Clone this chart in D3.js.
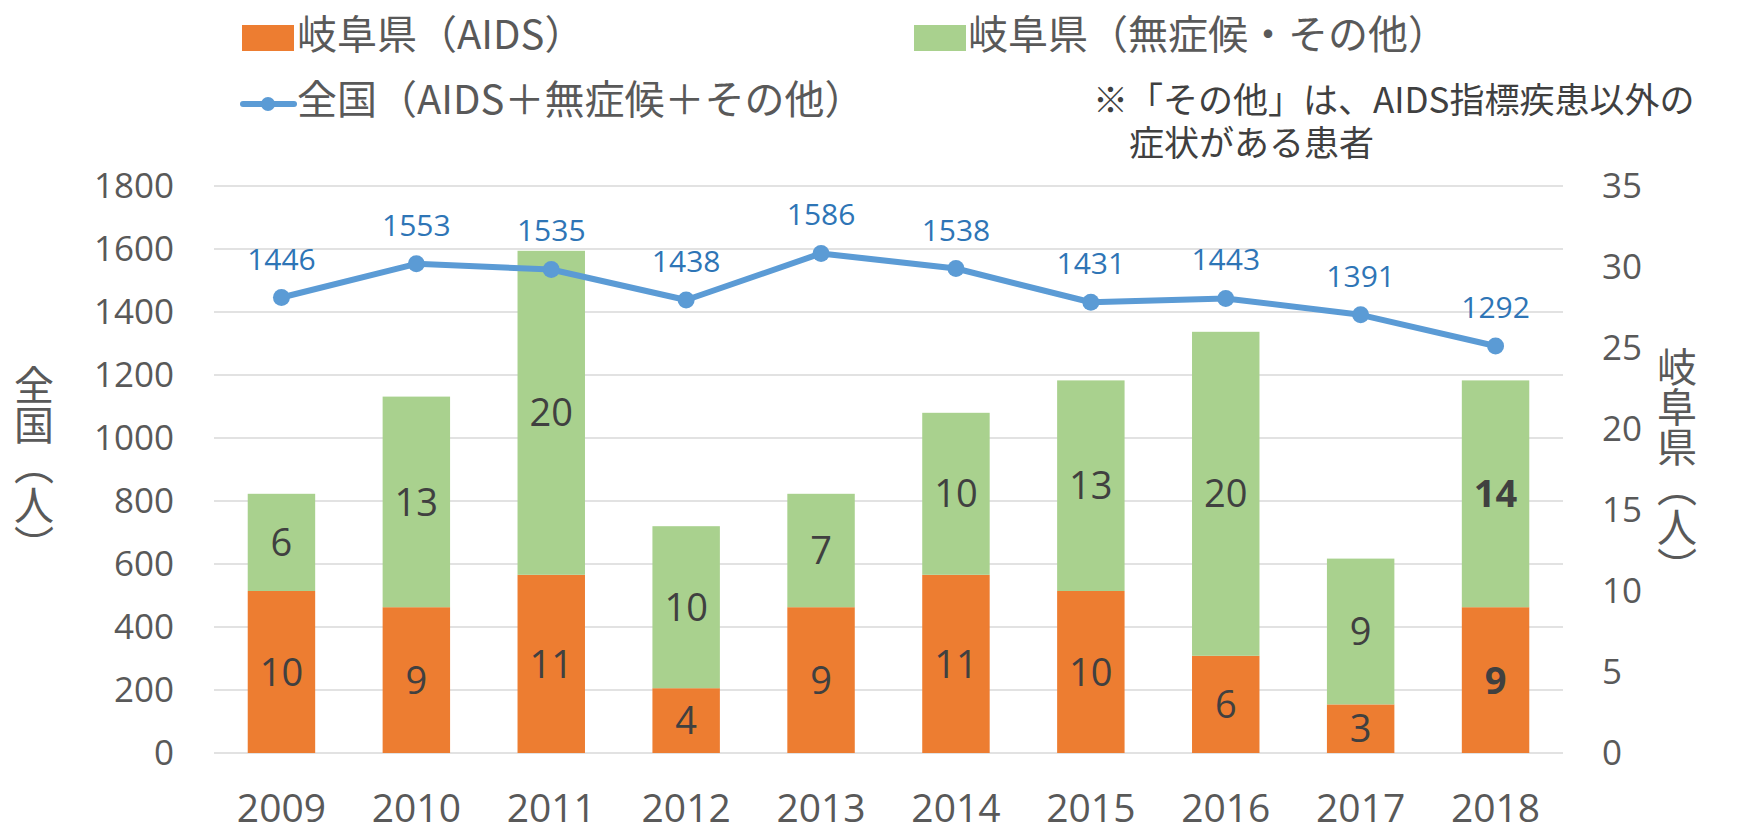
<!DOCTYPE html>
<html lang="ja">
<head>
    <meta charset="UTF-8">
    <title>HIV/AIDS 岐阜県・全国</title>
    <script src="https://d3js.org/d3.v7.min.js"></script>
    <style>
        body { margin: 0; background: #fff; }
        text { font-family: "Open Sans", "Noto Sans CJK JP", sans-serif; }
        .cjk { font-family: "Noto Sans CJK JP", sans-serif; }
    </style>
</head>
<body>
    <div id="chart"></div>
    <script>
        // data
        const years = ["2009", "2010", "2011", "2012", "2013", "2014", "2015", "2016", "2017", "2018"];
        const gifuAids = [10, 9, 11, 4, 9, 11, 10, 6, 3, 9];
        const gifuOther = [6, 13, 20, 10, 7, 10, 13, 20, 9, 14];
        const national = [1446, 1553, 1535, 1438, 1586, 1538, 1431, 1443, 1391, 1292];
        const leftTicks = [0, 200, 400, 600, 800, 1000, 1200, 1400, 1600, 1800];
        const rightTicks = [0, 5, 10, 15, 20, 25, 30, 35];
        const legendLabels = ["岐阜県（AIDS）", "岐阜県（無症候・その他）", "全国（AIDS＋無症候＋その他）"];
        const noteLines = ["※「その他」は、AIDS指標疾患以外の", "症状がある患者"];

        const W = 1737, H = 835;
        const margin = { top: 186, right: 174, bottom: 82, left: 214 };
        const width = W - margin.left - margin.right;
        const height = H - margin.top - margin.bottom;

        const orange = "#ed7d31", green = "#a9d18e", blue = "#5b9bd5";
        const grey = "#595959";

        const svg = d3.select("#chart").append("svg")
            .attr("width", W)
            .attr("height", H);

        const g = svg.append("g")
            .attr("transform", `translate(${margin.left},${margin.top})`);

        const x = d3.scaleBand().domain(years).range([0, width]).paddingInner(0.5).paddingOuter(0.25);
        const yL = d3.scaleLinear().domain([0, 1800]).range([height, 0]);
        const yR = d3.scaleLinear().domain([0, 35]).range([height, 0]);

        // gridlines
        g.append("g").selectAll("line")
            .data(leftTicks)
            .join("line")
            .attr("x1", 0).attr("x2", width)
            .attr("y1", d => yL(d)).attr("y2", d => yL(d))
            .attr("stroke", "#d9d9d9").attr("stroke-width", 1.5);

        // left axis
        const axL = g.append("g")
            .attr("transform", "translate(-40,0)")
            .call(d3.axisLeft(yL).tickValues(leftTicks).tickFormat(d3.format("d")).tickSize(0).tickPadding(0));
        axL.select(".domain").remove();
        axL.selectAll("text").attr("font-size", 35).attr("fill", grey)
            .attr("font-family", "Open Sans");

        // right axis
        const axR = g.append("g")
            .attr("transform", `translate(${width + 39},0)`)
            .call(d3.axisRight(yR).tickValues(rightTicks).tickFormat(d3.format("d")).tickSize(0).tickPadding(0));
        axR.select(".domain").remove();
        axR.selectAll("text").attr("font-size", 35).attr("fill", grey)
            .attr("font-family", "Open Sans");

        // x axis
        const axX = g.append("g")
            .attr("transform", `translate(0,${height})`)
            .call(d3.axisBottom(x).tickSize(0).tickPadding(41));
        axX.select(".domain").remove();
        axX.selectAll("text").attr("font-size", 39).attr("fill", grey)
            .attr("font-family", "Open Sans");

        // stacked bars
        const stackData = years.map((yr, i) => ({ year: yr, aids: gifuAids[i], other: gifuOther[i] }));
        const series = d3.stack().keys(["aids", "other"])(stackData);
        const colors = { aids: orange, other: green };

        const layers = g.append("g").selectAll("g")
            .data(series)
            .join("g")
            .attr("fill", d => colors[d.key]);

        layers.selectAll("rect")
            .data(d => d)
            .join("rect")
            .attr("x", d => x(d.data.year))
            .attr("width", x.bandwidth())
            .attr("y", d => yR(d[1]))
            .attr("height", d => yR(d[0]) - yR(d[1]));

        // bar labels
        layers.selectAll("text")
            .data(d => d.map(v => Object.assign({ key: d.key }, v)))
            .join("text")
            .attr("x", d => x(d.data.year) + x.bandwidth() / 2)
            .attr("y", d => yR((d[0] + d[1]) / 2))
            .attr("dy", "0.36em")
            .attr("text-anchor", "middle")
            .attr("font-size", 38)
            .attr("fill", "#404040")
            .attr("font-weight", d => d.data.year === "2018" ? "bold" : "normal")
            .text(d => d.data[d.key]);

        // national line
        const cx = d => x(d) + x.bandwidth() / 2;
        const line = d3.line()
            .x((d, i) => cx(years[i]))
            .y(d => yL(d));

        g.append("path")
            .datum(national)
            .attr("d", line)
            .attr("fill", "none")
            .attr("stroke", blue)
            .attr("stroke-width", 6)
            .attr("stroke-linejoin", "round");

        g.append("g").selectAll("circle")
            .data(national)
            .join("circle")
            .attr("cx", (d, i) => cx(years[i]))
            .attr("cy", d => yL(d))
            .attr("r", 8.5)
            .attr("fill", blue);

        g.append("g").selectAll("text")
            .data(national)
            .join("text")
            .attr("x", (d, i) => cx(years[i]))
            .attr("y", d => yL(d) - 28)
            .attr("text-anchor", "middle")
            .attr("font-size", 30)
            .attr("fill", "#2e75b6")
            .text(d => d);

        // axis titles (vertical)
        svg.append("text")
            .attr("class", "cjk")
            .attr("x", 34).attr("y", 465)
            .attr("writing-mode", "vertical-rl")
            .attr("text-anchor", "middle")
            .attr("font-size", 40)
            .attr("fill", grey)
            .text("全国（人）");

        svg.append("text")
            .attr("class", "cjk")
            .attr("x", 1677).attr("y", 467)
            .attr("writing-mode", "vertical-rl")
            .attr("text-anchor", "middle")
            .attr("font-size", 40)
            .attr("fill", grey)
            .text("岐阜県（人）");

        // legend
        const legend = svg.append("g");
        legend.append("rect").attr("x", 242).attr("y", 25).attr("width", 52).attr("height", 26).attr("fill", orange);
        legend.append("text").attr("class", "cjk").attr("x", 297).attr("y", 49)
            .attr("font-size", 40).attr("fill", grey).text(legendLabels[0]);

        legend.append("rect").attr("x", 914).attr("y", 25).attr("width", 52).attr("height", 26).attr("fill", green);
        legend.append("text").attr("class", "cjk").attr("x", 968).attr("y", 49)
            .attr("font-size", 40).attr("fill", grey).text(legendLabels[1]);

        legend.append("line").attr("x1", 243).attr("x2", 294).attr("y1", 104).attr("y2", 104)
            .attr("stroke", blue).attr("stroke-width", 6).attr("stroke-linecap", "round");
        legend.append("circle").attr("cx", 268).attr("cy", 104).attr("r", 7).attr("fill", blue);
        legend.append("text").attr("class", "cjk").attr("x", 297).attr("y", 114)
            .attr("font-size", 40).attr("fill", grey).text(legendLabels[2]);

        // note
        svg.append("text").attr("class", "cjk").attr("x", 1093).attr("y", 113)
            .attr("font-size", 35).attr("fill", "#404040").text(noteLines[0]);
        svg.append("text").attr("class", "cjk").attr("x", 1129).attr("y", 156)
            .attr("font-size", 35).attr("fill", "#404040").text(noteLines[1]);
    </script>
</body>
</html>
